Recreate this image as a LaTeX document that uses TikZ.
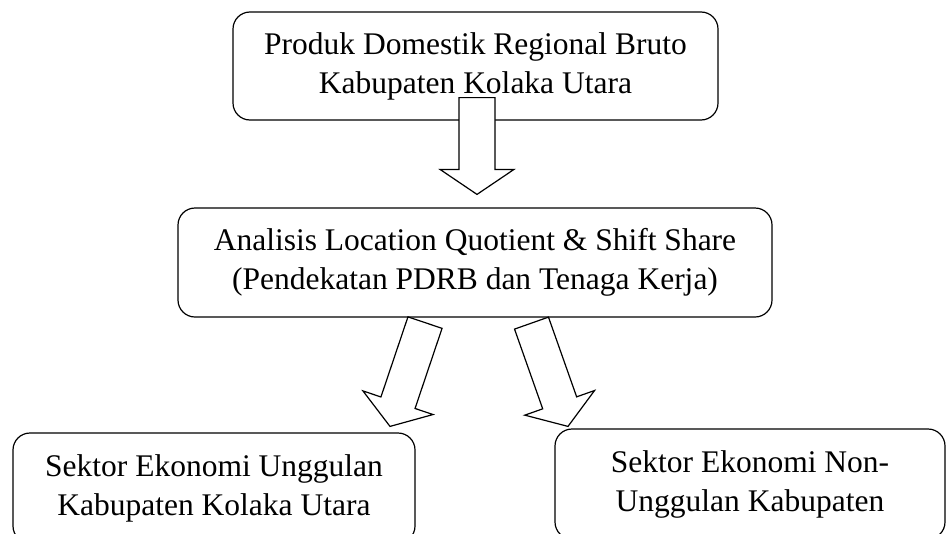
\documentclass[tikz,border=0pt]{standalone}
\usepackage{fontspec}
\setmainfont{Liberation Serif}
\usetikzlibrary{calc, positioning}
\tikzset{kotak/.style={draw, rounded corners=17pt, line width=1.2pt,
    align=center, inner sep=0pt, font=\fontsize{31.5}{39}\selectfont}}
\tikzset{panah/.style={draw, fill=white, line width=1.2pt}}
% block arrow from #1 to tip #2
\newcommand{\blokpanah}[2]{%
  \coordinate (#1h) at ($(#2)!25pt!(#1)$);
  \path[panah] ($(#1)!18pt!90:(#2)$) -- ($(#1h)!18pt!90:(#2)$)
    -- ($(#1h)!37pt!90:(#2)$) -- (#2) -- ($(#1h)!37pt!-90:(#2)$)
    -- ($(#1h)!18pt!-90:(#2)$) -- ($(#1)!18pt!-90:(#2)$) -- cycle;}

\begin{document}
\begin{tikzpicture}[x=1pt, y=-1pt]
  \useasboundingbox (0,0) rectangle (947,533);
  \clip (0,0) rectangle (947,533);
  \node[kotak, minimum width=485pt, minimum height=108pt] (produk)
    at (475.5,66) {Produk Domestik Regional Bruto\\Kabupaten Kolaka Utara};
  \node[kotak, minimum width=594pt, minimum height=109pt] (analisis)
    at (475,262.5) {Analisis Location Quotient \& Shift Share\\(Pendekatan PDRB dan Tenaga Kerja)};
  \node[kotak, minimum width=402pt, minimum height=110pt] (unggulan)
    at (214,488) {Sektor Ekonomi Unggulan\\Kabupaten Kolaka Utara};
  \node[kotak, minimum width=390pt, minimum height=110pt] (nonunggulan)
    at (750,484) {Sektor Ekonomi Non-\\Unggulan Kabupaten};
  %% arrows
  \coordinate (a1) at ($(produk.south)+(1.5,-23)$);
  \coordinate (b1) at ($(analisis.north)+(2,-13)$);
  \coordinate (a2) at ($(analisis.south)+(-50,5)$);
  \coordinate (b2) at ($(unggulan.north)+(176,-6)$);
  \coordinate (a3) at ($(analisis.south)+(56.5,5.5)$);
  \coordinate (b3) at ($(nonunggulan.north)+(-182,-2)$);
  \blokpanah{a1}{b1}
  \blokpanah{a2}{b2}
  \blokpanah{a3}{b3}
\end{tikzpicture}
\end{document}
